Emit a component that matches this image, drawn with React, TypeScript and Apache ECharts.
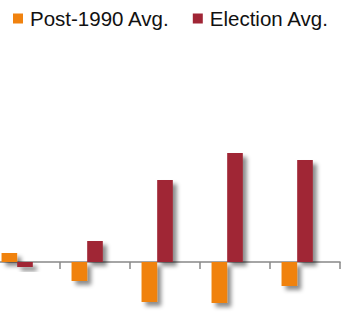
import React, { useEffect, useRef } from "react";
import * as echarts from "echarts";

const categories = ["A", "B", "C", "D", "E"];
const post1990Avg = [0.9, -1.9, -4.0, -4.1, -2.4];
const electionAvg = [-0.5, 2.1, 8.2, 10.9, 10.2];
const spacer = [null, null, null, null, null];

export default function App() {
  const ref = useRef<HTMLDivElement>(null);
  useEffect(() => {
    const chart = echarts.init(ref.current!, null, { renderer: "svg" });
    const shadow = {
      shadowBlur: 4,
      shadowColor: "rgba(0,0,0,0.45)",
      shadowOffsetX: 4,
      shadowOffsetY: 4,
    };
    chart.setOption({
      animation: false,
      legend: {
        top: 3,
        left: 18,
        icon: "rect",
        itemWidth: 10,
        itemHeight: 10,
        itemGap: 23,
        textStyle: {
          fontFamily: "Liberation Sans",
          fontSize: 20.5,
          color: "#111",
          padding: [0, 0, 0, 2],
        },
        data: ["Post-1990 Avg.", "Election Avg."],
      },
      grid: { left: 0, right: 10, top: 62, bottom: 3 },
      xAxis: {
        type: "category",
        data: categories,
        axisLabel: { show: false },
        axisLine: { onZero: true, lineStyle: { color: "#888", width: 1.5 } },
        axisTick: { show: true, length: 7, lineStyle: { color: "#888", width: 1.5 } },
      },
      yAxis: {
        type: "value",
        min: -6,
        max: 20,
        show: false,
        splitLine: { show: false },
      },
      series: [
        {
          name: "Post-1990 Avg.",
          type: "bar",
          data: post1990Avg,
          barGap: "0%",
          barCategoryGap: "33%",
          itemStyle: { color: "#F0820F", ...shadow },
        },
        {
          name: "Election Avg.",
          type: "bar",
          data: electionAvg,
          itemStyle: { color: "#A02535", ...shadow },
        },
        {
          name: "spacer",
          type: "bar",
          data: spacer,
        },
      ],
    });
    return () => chart.dispose();
  }, []);
  return (
    <div style={{ width: 350, height: 325, position: "absolute", left: 0, top: 0, overflow: "hidden" }}>
      <div ref={ref} style={{ width: 360, height: 325, position: "absolute", left: -10, top: 0 }} />
    </div>
  );
}
